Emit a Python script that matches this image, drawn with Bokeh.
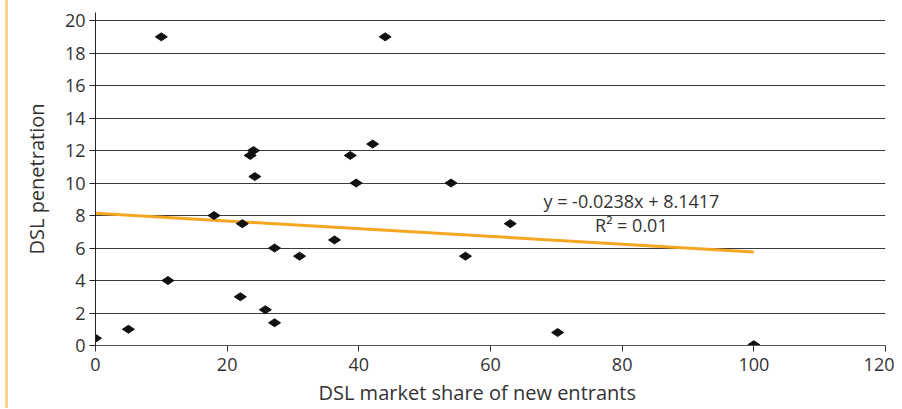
import numpy as np
from bokeh.plotting import figure
from bokeh.models import Range1d, FixedTicker, Spacer, Title
from bokeh.layouts import row
from bokeh.core.properties import value
from bokeh.embed import file_html
from bokeh.resources import INLINE

# Data
market_share = [0, 5, 10, 11, 18, 22, 22.3, 23.5, 24, 24.2, 25.8, 27.2, 27.2,
                31, 36.3, 38.7, 39.6, 42.1, 44, 54, 56.2, 63, 70.2, 100]
penetration = [0.45, 1.0, 19.0, 4.0, 8.0, 3.0, 7.5, 11.7, 12.0, 10.4, 2.2, 6.0, 1.4,
               5.5, 6.5, 11.7, 10.0, 12.4, 19.0, 10.0, 5.5, 7.5, 0.8, 0.05]
trend_slope = -0.0238
trend_intercept = 8.1417
trend_x = [0, 100]
x_ticks = [0, 20, 40, 60, 80, 100, 120]
y_ticks = [0, 2, 4, 6, 8, 10, 12, 14, 16, 18, 20]
eq_label = "y = -0.0238x + 8.1417"
r2_label = "R\u00b2 = 0.01"
x_title = "DSL market share of new entrants"
y_title = "DSL penetration"

FONT = "Open Sans"
H = 408

p = figure(width=886, height=H, output_backend="svg", toolbar_location=None,
           x_range=Range1d(0, 120), y_range=Range1d(0, 20.5),
           min_border_left=87, min_border_right=9, min_border_top=12, min_border_bottom=0)
p.outline_line_color = None
p.background_fill_color = "white"

# grid
p.xgrid.grid_line_color = None
p.ygrid.grid_line_color = "#3a3a3a"
p.ygrid.grid_line_width = 1
p.yaxis.ticker = FixedTicker(ticks=y_ticks)
p.xaxis.ticker = FixedTicker(ticks=x_ticks)

for ax in (p.xaxis[0], p.yaxis[0]):
    ax.minor_tick_line_color = None
    ax.major_tick_in = 0
    ax.major_tick_out = 6
    ax.major_label_text_font = FONT
    ax.major_label_text_font_size = "18px"
    ax.major_label_text_color = "#333333"
    ax.axis_label_text_font = FONT
    ax.axis_label_text_font_size = "20px"
    ax.axis_label_text_font_style = "normal"
    ax.axis_label_text_color = "#333333"
p.xaxis.axis_line_color = "#555555"
p.xaxis.major_tick_line_color = "#333333"
p.yaxis.axis_line_color = "#222222"
p.yaxis.major_tick_line_color = "#222222"
p.yaxis.axis_label = y_title
p.xaxis.major_label_standoff = 6
p.yaxis.major_label_standoff = 4
p.yaxis.axis_label_standoff = 12

# x axis title, slightly left of the plot centre as in the original
p.add_layout(Title(text=x_title, align="left", offset=223, standoff=6,
                   text_font=FONT, text_font_size="20px", text_font_style="normal",
                   text_color="#333333"), "below")

# trend line
trend_y = [trend_slope * xv + trend_intercept for xv in trend_x]
p.line(trend_x, trend_y, line_color="#F5A623", line_width=3)

# points
p.scatter(market_share, penetration, marker="diamond", size=12, angle=np.pi / 2,
          fill_color="#111111", line_color="#111111")

# equation labels
p.text(x=[81.4, 81.4], y=[8.9, 7.4], text=[eq_label, r2_label],
       text_font=value(FONT), text_font_size="18px", text_color="#333333",
       text_align="center", text_baseline="middle")

gap = Spacer(width=5, height=H)
bar = Spacer(width=3, height=H, styles={"background-color": "#FFD08A"})
layout = row(gap, bar, p, spacing=0)

open("out.html", "w").write(file_html(layout, INLINE))
